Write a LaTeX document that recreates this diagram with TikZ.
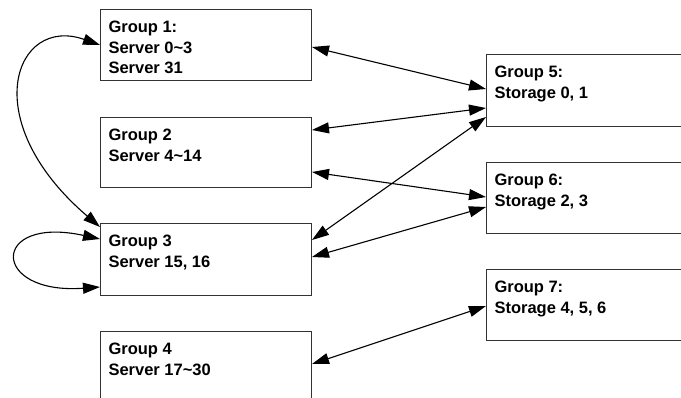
\documentclass[tikz,border=0pt]{standalone}
\usepackage{fontspec}
\setmainfont{Liberation Sans}
\usetikzlibrary{arrows.meta}
\tikzset{
  grp/.style={draw=black!80, line width=1pt, anchor=north west, inner xsep=8pt, inner ysep=0pt,
    font=\bfseries\fontsize{16.5}{20.5}\selectfont},
  link/.style={{Triangle[length=17pt,width=11pt]}-{Triangle[length=17pt,width=11pt]}, line width=1.1pt},
}
\newcommand{\grplines}[2][71pt]{\parbox[t][#1][t]{195pt}{\rule{0pt}{23pt}#2}}
\begin{document}
\begin{tikzpicture}[x=1pt,y=-1pt]
    \useasboundingbox (0,0) rectangle (681,397);
    \clip (0,0) rectangle (681,397);
    % server groups
    \node[grp] (g1) at (100,9) {\grplines{Group 1:\\Server 0\textasciitilde 3\\Server 31}};
    \node[grp] (g2) at (100,117) {\grplines[70pt]{Group 2\\Server 4\textasciitilde 14}};
    \node[grp] (g3) at (100,223) {\grplines[72pt]{Group 3\\Server 15, 16}};
    \node[grp] (g4) at (100,331) {\grplines[80pt]{Group 4\\Server 17\textasciitilde 30}};
    % storage groups
    \node[grp] (g5) at (486,54) {\grplines[72pt]{Group 5:\\Storage 0, 1}};
    \node[grp] (g6) at (486,162) {\grplines{Group 6:\\Storage 2, 3}};
    \node[grp] (g7) at (486,269) {\grplines{Group 7:\\Storage 4, 5, 6}};
    % links
    \draw[link] ([yshift=-38pt]g1.north east) -- ([yshift=-35pt]g5.north west);
    \draw[link] ([yshift=-13pt]g2.north east) -- ([yshift=-54pt]g5.north west);
    \draw[link] ([yshift=-55pt]g2.north east) -- ([yshift=-35pt]g6.north west);
    \draw[link] ([yshift=-17pt]g3.north east) -- ([yshift=-63pt]g5.north west);
    \draw[link] ([yshift=-34pt]g3.north east) -- ([yshift=-45pt]g6.north west);
    \draw[link] ([yshift=-33pt]g4.north east) -- ([yshift=-37pt]g7.north west);
    \draw[link] ([yshift=-4pt]g3.north west) .. controls +(-125,-107) and +(-85,-30) .. ([yshift=-36pt]g1.north west);
    \draw[link] ([yshift=-16pt]g3.north west) .. controls +(-110,-24) and +(-110,8) .. ([yshift=-64pt]g3.north west);
\end{tikzpicture}
\end{document}
